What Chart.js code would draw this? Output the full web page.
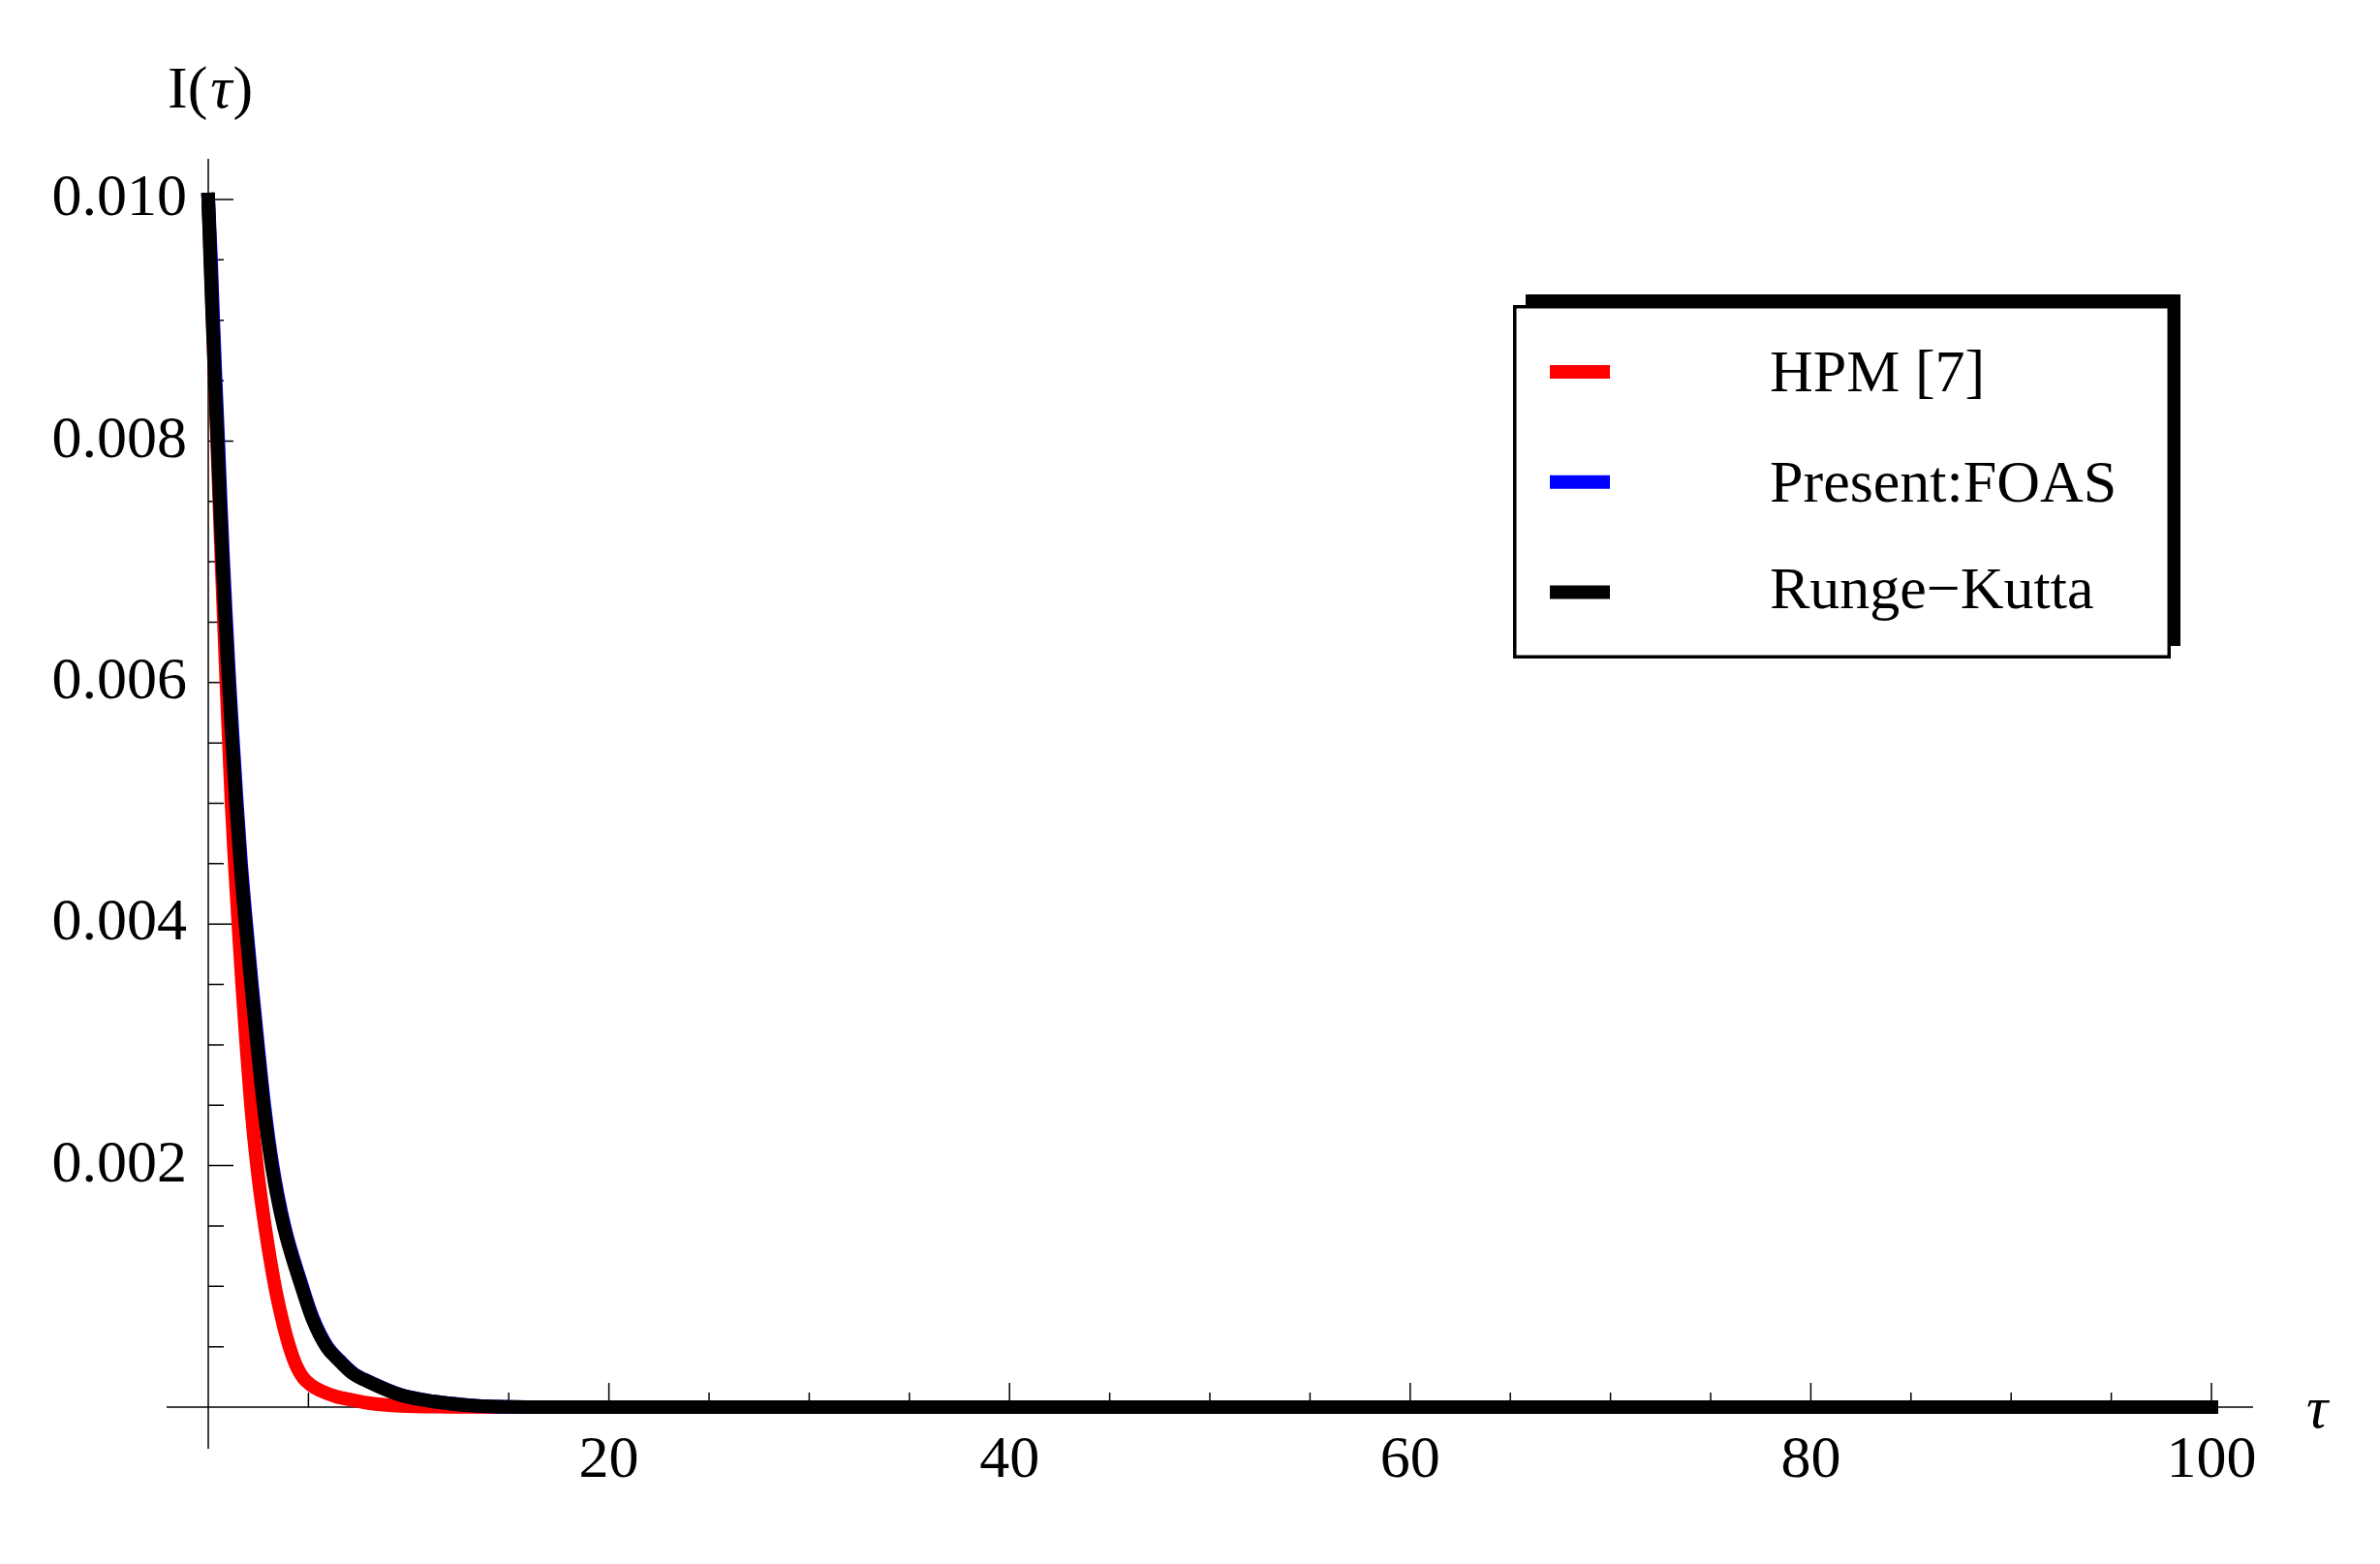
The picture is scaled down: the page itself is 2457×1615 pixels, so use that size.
<!DOCTYPE html>
<html>
<head>
<meta charset="utf-8">
<script src="https://cdn.jsdelivr.net/npm/chart.js@4.4.1/dist/chart.umd.min.js"></script>
<style>
  html, body { margin: 0; padding: 0; background: #fff; }
  #wrap { width: 2457px; height: 1615px; position: relative; }
</style>
</head>
<body>
<div id="wrap"><canvas id="chart"></canvas></div>
<script>
// series
const seriesNames = ['HPM [7]', 'Present:FOAS', 'Runge\u2212Kutta'];
const seriesColors = ['#ff0000', '#0000ff', '#000000'];

const hpmTau = [0, 0.11, 0.22, 0.44, 0.55, 0.66, 0.78, 0.90, 1.03, 1.16, 1.32, 1.50, 1.69, 1.90, 2.13, 2.43, 2.83, 3.33, 3.68, 4.05, 4.40, 4.75, 5.15, 5.56, 6.37, 7.16, 7.98, 9.6, 12, 16, 25, 40, 60, 80, 100];
const hpmI = [0.0100, 0.0095, 0.0090, 0.0080, 0.0075, 0.0070, 0.0065, 0.0060, 0.0055, 0.0050, 0.0045, 0.0040, 0.0035, 0.0030, 0.0025, 0.0020, 0.0015, 0.0010, 0.00073, 0.0005, 0.00034, 0.00024, 0.00018, 0.00014, 0.000088, 0.00006, 0.000034, 0.00001, 0.000003, 0, 0, 0, 0, 0, 0];

const foasTau = [0, 0.14, 0.25, 0.37, 0.50, 0.62, 0.75, 0.90, 1.06, 1.24, 1.43, 1.64, 1.90, 2.18, 2.48, 2.80, 3.21, 3.80, 4.69, 5.24, 5.94, 6.54, 7.24, 8.04, 9.64, 11.24, 12.84, 14.44, 18, 25, 40, 60, 80, 100];
const foasI = [0.0100, 0.0095, 0.0090, 0.0085, 0.0080, 0.0075, 0.0070, 0.0065, 0.0060, 0.0055, 0.0050, 0.0045, 0.0040, 0.0035, 0.0030, 0.0025, 0.0020, 0.0015, 0.0010, 0.00073, 0.0005, 0.00039, 0.00028, 0.00021, 0.00010, 0.000048, 0.000018, 0.000004, 0, 0, 0, 0, 0, 0];

const rkTau = [0, 0.10, 0.21, 0.33, 0.46, 0.58, 0.71, 0.86, 1.02, 1.20, 1.39, 1.60, 1.86, 2.14, 2.44, 2.76, 3.17, 3.76, 4.65, 5.2, 5.9, 6.5, 7.2, 8.0, 9.6, 11.2, 12.8, 14.4, 18, 25, 40, 60, 80, 100];
const rkI = [0.0100, 0.0095, 0.0090, 0.0085, 0.0080, 0.0075, 0.0070, 0.0065, 0.0060, 0.0055, 0.0050, 0.0045, 0.0040, 0.0035, 0.0030, 0.0025, 0.0020, 0.0015, 0.0010, 0.00073, 0.0005, 0.00039, 0.00028, 0.00021, 0.00010, 0.000048, 0.000018, 0.000004, 0, 0, 0, 0, 0, 0];

const xTickValues = [20, 40, 60, 80, 100];
const xTickLabels = ['20', '40', '60', '80', '100'];
const yTickValues = [0.002, 0.004, 0.006, 0.008, 0.010];
const yTickLabels = ['0.002', '0.004', '0.006', '0.008', '0.010'];

const FONT = '"Liberation Serif", "Times New Roman", serif';

function toPoints(xs, ys) {
    return xs.map((x, i) => ({ x: x, y: ys[i] }));
}

function labelFor(v, values, labels, eps) {
    for (let i = 0; i < values.length; i++) {
        if (Math.abs(v - values[i]) < eps) return labels[i];
    }
    return '';
}

// Mathematica-like axes: cross at origin, ticks pointing inwards
const axesPlugin = {
    id: 'mmaAxes',
    beforeDatasetsDraw(chart) {
        const ctx = chart.ctx;
        const xs = chart.scales.x;
        const ys = chart.scales.y;
        const x0 = xs.getPixelForValue(0);
        const y0 = ys.getPixelForValue(0);
        ctx.save();
        ctx.strokeStyle = '#000';
        ctx.lineWidth = 1.5;
        ctx.beginPath();
        ctx.moveTo(x0 - 43, y0);
        ctx.lineTo(xs.getPixelForValue(100) + 43, y0);
        ctx.moveTo(x0, ys.getPixelForValue(0.010) - 42);
        ctx.lineTo(x0, y0 + 43);
        ctx.stroke();

        ctx.beginPath();
        xs.ticks.forEach(t => {
            if (t.value === 0) return;
            const px = xs.getPixelForValue(t.value);
            const major = Math.abs(t.value % 20) < 1e-6;
            ctx.moveTo(px, y0);
            ctx.lineTo(px, y0 - (major ? 25 : 15));
        });
        ys.ticks.forEach(t => {
            if (Math.abs(t.value) < 1e-9) return;
            const py = ys.getPixelForValue(t.value);
            const k = Math.round(t.value / 0.0005);
            const major = k % 4 === 0;
            ctx.moveTo(x0, py);
            ctx.lineTo(x0 + (major ? 26 : 16), py);
        });
        ctx.stroke();

        // axis labels
        ctx.fillStyle = '#000';
        ctx.textBaseline = 'alphabetic';
        ctx.textAlign = 'left';
        ctx.font = '62px ' + FONT;
        ctx.fillText('I(', 173, 111);
        let w = ctx.measureText('I(').width;
        ctx.font = 'italic 62px ' + FONT;
        ctx.fillText('\u03c4', 173 + w + 3, 111);
        let w2 = ctx.measureText('\u03c4').width;
        ctx.font = '62px ' + FONT;
        ctx.fillText(')', 173 + w + 3 + w2 + 1, 111);

        ctx.font = 'italic 62px ' + FONT;
        ctx.fillText('\u03c4', 2381, 1474);
        ctx.restore();
    }
};

const legendPlugin = {
    id: 'boxLegend',
    afterDraw(chart) {
        const ctx = chart.ctx;
        const baselines = [404, 518, 628];
        ctx.save();
        // shadow then box
        ctx.fillStyle = '#000';
        ctx.fillRect(1575, 304, 676, 363);
        ctx.fillStyle = '#fff';
        ctx.fillRect(1562, 315, 679, 365);
        ctx.strokeStyle = '#000';
        ctx.lineWidth = 3.5;
        ctx.strokeRect(1563.75, 316.75, 675.5, 361.5);

        ctx.font = '62px ' + FONT;
        ctx.textBaseline = 'alphabetic';
        ctx.textAlign = 'left';
        chart.data.datasets.forEach((ds, i) => {
            const cy = 384 + i * 113.75;
            ctx.fillStyle = ds.borderColor;
            ctx.fillRect(1600, cy - 7, 62, 14);
            ctx.fillStyle = '#000';
            ctx.fillText(ds.label, 1827, baselines[i]);
        });
        ctx.restore();
    }
};

const ctx = document.getElementById('chart').getContext('2d');
new Chart(ctx, {
    type: 'line',
    data: {
        datasets: [
            {
                label: seriesNames[0],
                data: toPoints(hpmTau, hpmI),
                borderColor: seriesColors[0],
                order: 3
            },
            {
                label: seriesNames[1],
                data: toPoints(foasTau, foasI),
                borderColor: seriesColors[1],
                order: 2
            },
            {
                label: seriesNames[2],
                data: toPoints(rkTau, rkI),
                borderColor: seriesColors[2],
                order: 1
            }
        ]
    },
    options: {
        responsive: true,
        maintainAspectRatio: false,
        devicePixelRatio: 1,
        animation: false,
        events: [],
        layout: {
            padding: { top: 206, right: 174, left: 0, bottom: 0 }
        },
        elements: {
            point: { radius: 0 },
            line: {
                borderWidth: 14,
                fill: false,
                cubicInterpolationMode: 'monotone',
                borderCapStyle: 'square',
                borderJoinStyle: 'round'
            }
        },
        datasets: {
            line: { clip: false }
        },
        plugins: {
            legend: { display: false },
            tooltip: { enabled: false }
        },
        scales: {
            x: {
                type: 'linear',
                min: 0,
                max: 100,
                afterFit(scale) { scale.height = 162; },
                border: { display: false },
                grid: { display: false, drawTicks: false, tickLength: 0 },
                ticks: {
                    stepSize: 5,
                    autoSkip: false,
                    maxRotation: 0,
                    padding: 19,
                    color: '#000',
                    font: { family: FONT, size: 62 },
                    callback: (v) => labelFor(v, xTickValues, xTickLabels, 1e-6)
                }
            },
            y: {
                type: 'linear',
                min: 0,
                max: 0.010,
                afterFit(scale) { scale.width = 215; },
                border: { display: false },
                grid: { display: false, drawTicks: false, tickLength: 0 },
                ticks: {
                    stepSize: 0.0005,
                    autoSkip: false,
                    padding: 22,
                    color: '#000',
                    font: { family: FONT, size: 62 },
                    callback: (v) => labelFor(v, yTickValues, yTickLabels, 1e-8)
                }
            }
        }
    },
    plugins: [axesPlugin, legendPlugin]
});
</script>
</body>
</html>
